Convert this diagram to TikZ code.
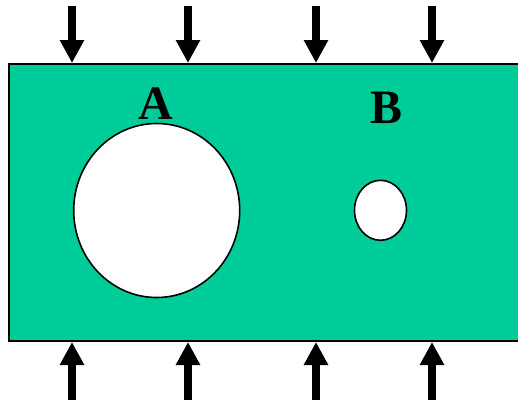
\documentclass[tikz,border=0pt]{standalone}
\usepackage{fontspec}
\setmainfont{Liberation Serif}
\usetikzlibrary{arrows.meta,shapes.geometric}
\definecolor{platecol}{RGB}{0,204,153}

\begin{document}
\begin{tikzpicture}[x=1pt,y=-1pt,
    load/.style={line width=8pt,-{Triangle[width=23pt,length=23pt]}},
    hole/.style={draw,line width=1.6pt,fill=white,ellipse,inner sep=0pt}]
    \useasboundingbox (0,0) rectangle (518,410);
    \begin{scope}
      \clip (0,0) rectangle (518,410);
      \node[draw,line width=2pt,fill=platecol,anchor=north west,inner sep=0pt,
        minimum width=530pt,minimum height=277pt] (plate) at (8,63) {};
    \end{scope}
    \node[hole,minimum width=166pt,minimum height=174pt] (holeA) at (156.7,210.5) {};
    \node[hole,minimum width=52pt,minimum height=60pt] (holeB) at (380.5,210.3) {};
    \node[inner sep=0pt,font=\fontsize{48}{48}\selectfont\bfseries] (labA) at (155.5,103.5) {A};
    \node[inner sep=0pt,font=\fontsize{48}{48}\selectfont\bfseries] (labB) at (386,107.5) {B};
    % loads on the top and bottom edges
    \foreach \x [count=\i] in {72,188,316,432} {
      \coordinate (top\i) at (\x,6);
      \coordinate (bot\i) at (\x,400);
      \draw[load] (top\i) -- (top\i |- plate.north);
      \draw[load] (bot\i) -- (bot\i |- plate.south);
    }
\end{tikzpicture}
\end{document}
